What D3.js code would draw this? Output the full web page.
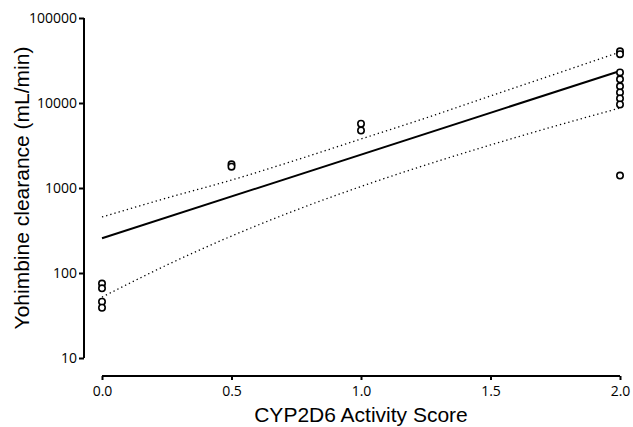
<!DOCTYPE html>
<html>
<head>
<meta charset="utf-8">
<script src="https://cdn.jsdelivr.net/npm/d3@7"></script>
<style>
  body { margin: 0; background: #fff; }
  svg { display: block; }
</style>
</head>
<body>
<div id="chart"></div>
<script>
// observed clearance per activity score
const scores = [0, 0, 0, 0, 0.5, 0.5, 1, 1, 2, 2, 2, 2, 2, 2, 2, 2, 2];
const clearance = [75, 66, 46, 39, 1900, 1780, 5700, 4750, 40600, 37500, 22900, 19000, 15700, 13300, 11300, 9600, 1400];

// fitted curve and 95% band
const fitX = [0, 2];
const fitY = [256, 23800];
const bandX = [0, 0.25, 0.5, 0.75, 1.0, 1.25, 1.5, 1.75, 2.0];
const bandUpper = [456, 762, 1240, 2135, 3770, 6660, 12100, 21900, 39800];
const bandLower = [52, 124, 272, 551, 1042, 1866, 3207, 5358, 8730];

const xTicks = [0, 0.5, 1, 1.5, 2];
const yTicks = [10, 100, 1000, 10000, 100000];

const width = 633;
const height = 427;

const svg = d3.select("#chart")
  .append("svg")
  .attr("width", width)
  .attr("height", height);

const x = d3.scaleLinear().domain([0, 2]).range([102, 620]);
const y = d3.scaleLog().domain([10, 100000]).range([358, 18]);

const tickFont = "'Open Sans', sans-serif";

// y axis
const yAxis = svg.append("g")
  .attr("transform", "translate(84,0)")
  .call(d3.axisLeft(y).tickValues(yTicks).tickFormat(d3.format("d")).tickSize(5).tickPadding(2));
yAxis.select(".domain").attr("d", `M0,${y(100000)}V${y(10)}`).attr("stroke-width", 2);
yAxis.selectAll(".tick line").attr("stroke-width", 2);
yAxis.selectAll(".tick text").style("font-family", tickFont).style("font-size", "14px").attr("fill", "#000");

// x axis
const xAxis = svg.append("g")
  .attr("transform", "translate(0,376)")
  .call(d3.axisBottom(x).tickValues(xTicks).tickFormat(d3.format(".1f")).tickSize(4).tickPadding(6));
xAxis.select(".domain").attr("d", `M${x(0)},0H${x(2)}`).attr("stroke-width", 2);
xAxis.selectAll(".tick line").attr("stroke-width", 2);
xAxis.selectAll(".tick text").style("font-family", tickFont).style("font-size", "14px").attr("fill", "#000");

// axis titles
svg.append("text")
  .attr("transform", `translate(29,${(y(10) + y(100000)) / 2}) rotate(-90)`)
  .attr("text-anchor", "middle")
  .style("font-family", "'Liberation Sans', Arial, sans-serif")
  .style("font-size", "21px")
  .text("Yohimbine clearance (mL/min)");

svg.append("text")
  .attr("x", (x(0) + x(2)) / 2)
  .attr("y", 422)
  .attr("text-anchor", "middle")
  .style("font-family", "'Liberation Sans', Arial, sans-serif")
  .style("font-size", "21px")
  .text("CYP2D6 Activity Score");

// confidence band
const band = d3.line()
  .x(d => x(d[0]))
  .y(d => y(d[1]))
  .curve(d3.curveMonotoneX);

[bandUpper, bandLower].forEach(vals => {
  svg.append("path")
    .attr("d", band(bandX.map((v, i) => [v, vals[i]])))
    .attr("fill", "none")
    .attr("stroke", "#000")
    .attr("stroke-width", 1.3)
    .attr("stroke-dasharray", "1.3,3");
});

// fit line
svg.append("path")
  .attr("d", d3.line().x(d => x(d[0])).y(d => y(d[1]))(fitX.map((v, i) => [v, fitY[i]])))
  .attr("fill", "none")
  .attr("stroke", "#000")
  .attr("stroke-width", 2);

// points
svg.selectAll("circle.pt")
  .data(scores.map((s, i) => ({ s: s, c: clearance[i] })))
  .enter()
  .append("circle")
  .attr("class", "pt")
  .attr("cx", d => x(d.s))
  .attr("cy", d => y(d.c))
  .attr("r", 3.2)
  .attr("fill", "#fff")
  .attr("stroke", "#000")
  .attr("stroke-width", 1.6);
</script>
</body>
</html>
